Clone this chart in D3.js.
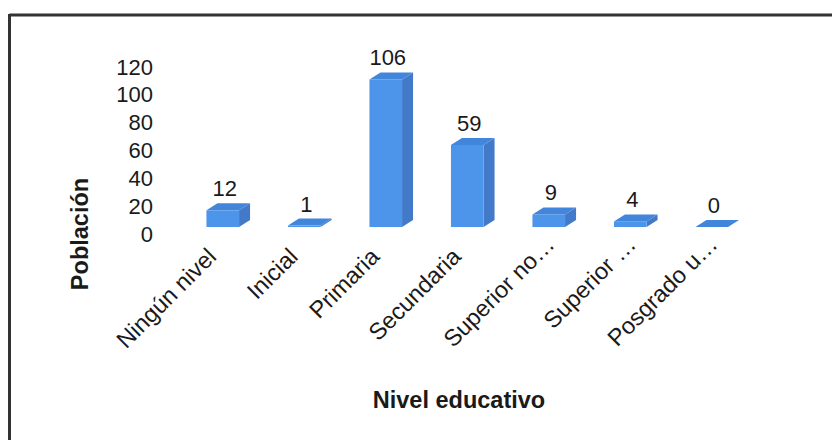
<!DOCTYPE html>
<html lang="es">
<head>
<meta charset="UTF-8">
<title>Nivel educativo</title>
<script src="https://d3js.org/d3.v7.min.js"></script>
<style>
  body { margin: 0; background: #fff; }
  svg text { font-family: Arial, "Liberation Sans", sans-serif; fill: #1a1a1a; }
  .tick text { font-size: 22px; }
  .val { font-size: 22px; }
  .cat { font-size: 23.5px; }
  .title { font-size: 23.5px; font-weight: bold; }
</style>
</head>
<body>
<svg id="chart" width="832" height="440"></svg>
<script>
// datos del gráfico
const categories = ["Ningún nivel", "Inicial", "Primaria", "Secundaria", "Superior no…", "Superior …", "Posgrado u…"];
const values = [12, 1, 106, 59, 9, 4, 0];
const yTicks = [0, 20, 40, 60, 80, 100, 120];

const svg = d3.select("#chart");

// marco (solo bordes superior e izquierdo visibles)
svg.append("line").attr("x1", 9.5).attr("y1", 15).attr("x2", 832).attr("y2", 15)
  .attr("stroke", "#333").attr("stroke-width", 3);
svg.append("line").attr("x1", 9.5).attr("y1", 14).attr("x2", 9.5).attr("y2", 440)
  .attr("stroke", "#333").attr("stroke-width", 3);

const x = d3.scaleBand()
  .domain(categories)
  .range([182, 752.5])
  .paddingInner(0.6)
  .paddingOuter(0.3);

const y = d3.scaleLinear().domain([0, 120]).range([227, 60]);

// profundidad 3D
const dx = 11, dy = 7;

// eje Y
const yAxis = svg.append("g")
  .attr("transform", "translate(153,7)")
  .call(d3.axisLeft(y).tickValues(yTicks).tickSize(0).tickPadding(0));
yAxis.select(".domain").remove();
yAxis.selectAll("text").attr("font-family", null).attr("font-size", null);

// barras
const bars = svg.append("g").selectAll("g")
  .data(categories.map((c, i) => ({ c, v: values[i] })))
  .join("g");

bars.append("path")
  .attr("fill", "#4279c9")
  .attr("d", d => {
    const x0 = x(d.c) + x.bandwidth(), y0 = y(0), yv = y(d.v);
    return `M${x0},${yv}L${x0 + dx},${yv - dy}L${x0 + dx},${y0 - dy}L${x0},${y0}Z`;
  });

bars.append("rect")
  .attr("fill", "#4d95ea")
  .attr("x", d => x(d.c))
  .attr("y", d => y(d.v))
  .attr("width", x.bandwidth())
  .attr("height", d => y(0) - y(d.v));

bars.append("path")
  .attr("fill", "#4286db")
  .attr("d", d => {
    const x0 = x(d.c), yv = y(d.v), w = x.bandwidth();
    return `M${x0},${yv}L${x0 + dx},${yv - dy}L${x0 + w + dx},${yv - dy}L${x0 + w},${yv}Z`;
  });

// etiquetas de valor
bars.append("text")
  .attr("class", "val")
  .attr("text-anchor", "middle")
  .attr("x", d => x(d.c) + x.bandwidth() / 2 + 2)
  .attr("y", d => y(d.v) - dy - 7)
  .text(d => d.v);

// etiquetas de categoría
svg.append("g").selectAll("text")
  .data(categories)
  .join("text")
  .attr("class", "cat")
  .attr("text-anchor", "end")
  .attr("transform", d => `translate(${x(d) + x.bandwidth() / 2 - 5},258) rotate(-45)`)
  .attr("dx", d => d.endsWith("…") ? 17 : 0)
  .text(d => d);

// títulos de ejes
svg.append("text")
  .attr("class", "title")
  .attr("text-anchor", "middle")
  .attr("transform", "translate(88,234) rotate(-90)")
  .text("Población");

svg.append("text")
  .attr("class", "title")
  .attr("text-anchor", "middle")
  .attr("x", 459)
  .attr("y", 408)
  .text("Nivel educativo");
</script>
</body>
</html>
